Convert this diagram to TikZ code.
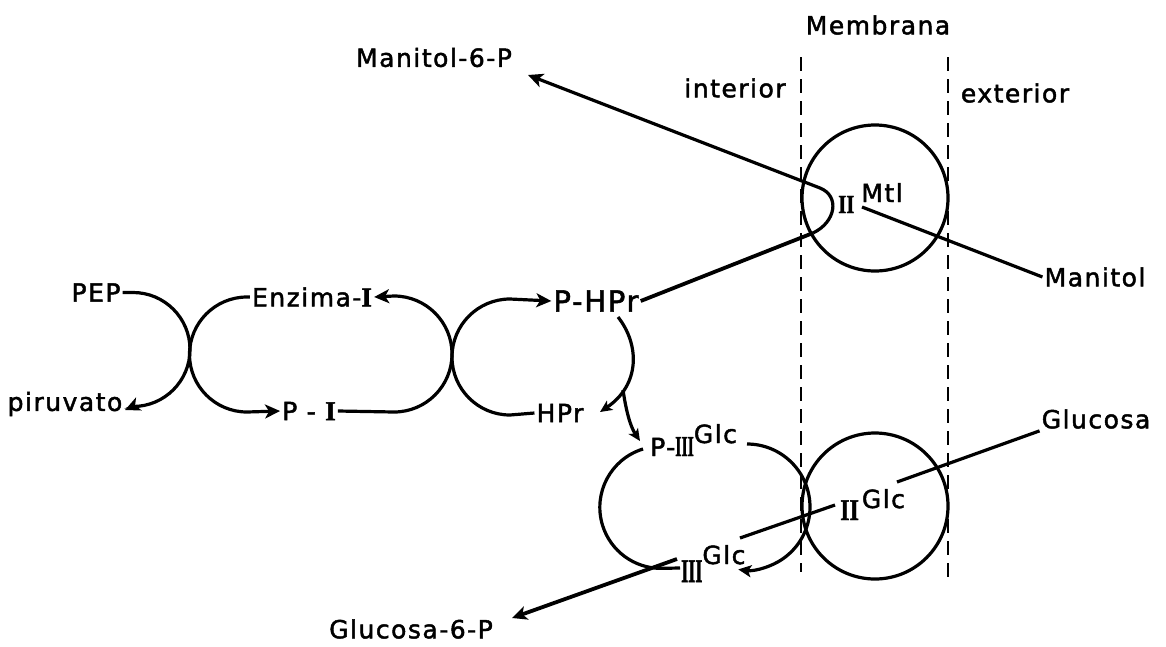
\documentclass[tikz,border=0pt]{standalone}
\usepackage{graphicx}
\usepackage{fontspec}
\setmainfont{DejaVu Sans}[LetterSpace=6, FakeBold=1.8]
\newfontfamily\numf{Liberation Serif}[BoldFeatures={FakeBold=1.5}]
\usetikzlibrary{arrows.meta}
% condensed roman numeral: optional horizontal scale, size, numeral
\newcommand{\romnum}[3][1]{\scalebox{#1}[1]{\fontsize{#2}{#2}\numf\bfseries #3}}
\begin{document}
\begin{tikzpicture}[x=1pt,y=1pt,
  every node/.style={font=\fontsize{25}{29}\selectfont, inner sep=2pt},
  ln/.style={line width=3.2pt},
  bold/.style={line width=3.8pt},
  tip/.style={-{Stealth[length=15pt,width=14pt,inset=4pt]}},
  arr/.style={ln, tip},
  membr/.style={line width=2.4pt, dash pattern=on 14pt off 8pt},
  sup/.style={anchor=base west, inner sep=0pt}]
\fill[white] (0,0) rectangle (1166,-646);
\useasboundingbox (0,0) rectangle (1166,-646);

% labels
\node (pep)   at (96,-292.5) {PEP};
\node (piru)  at (65,-404)   {piruvato};
\node (enz)   at (312,-297)  {Enzima-\romnum{27}{I}};
\node (pI)    at (309,-411)  {P - \romnum{27}{I}};
\node[font=\fontsize{29}{32}\selectfont] (phpr) at (596,-301) {P-HPr};
\node (hpr)   at (560,-413)  {HPr};
\node (m6p)   at (434,-57.5) {Manitol-6-P};
\node (g6p)   at (411,-629)  {Glucosa-6-P};
\node (glu)   at (1096,-419) {Glucosa};
\node (mant)  at (1095,-277) {Manitol};
\node (memb)  at (878,-25)   {Membrana};
\node (inter) at (735,-88)   {interior};
\node (exter) at (1015,-93)  {exterior};

\node[sup] (iimtl)  at (838,-213) {\romnum[0.8]{26}{II}\hspace{7pt}\raisebox{11pt}{Mtl}};
\node[sup] (iiglc)  at (840,-520) {\romnum[0.8]{30}{II}\hspace{3pt}\raisebox{12pt}{Glc}};
\node[sup] (piii)   at (650,-456) {P-\romnum[0.55]{29}{III}\raisebox{13pt}{Glc}};
\node[sup] (iiiglc) at (681,-582) {\romnum[0.55]{33}{III}\raisebox{18pt}{Glc}};

% membrane
\draw[membr] (801,-57) -- (801,-572);
\draw[membr] (948,-57) -- (948,-584);

% transporter circles
\draw[ln] (875,-198) circle[radius=73];
\draw[ln] (875,-506) circle[radius=73];

% PEP -> piruvato
\coordinate (c1t) at (133,-292.5);
\coordinate (piruA) at (125,-410);
\draw[arr] (pep.east) -- (c1t) arc[start angle=90, end angle=-90, radius=57] -- (piruA);

% Enzima-I -> P-I
\coordinate (c2t) at (247,-297);
\draw[arr] (enz.west) -- (c2t) arc[start angle=90, end angle=270, radius=57.5] -- (pI.west);

% P-I -> Enzima-I
\coordinate (c3b) at (394,-412);
\draw[arr] (pI.east) -- (c3b) arc[start angle=-90, end angle=90, radius=58] -- (enz.east);

% HPr -> P-HPr
\coordinate (c4b) at (510,-415);
\draw[arr] (hpr.west) -- (c4b) arc[start angle=270, end angle=90, radius=58] -- (phpr.west);

% P-HPr -> HPr and P-HPr -> P-III
\coordinate (hA) at (618,-317);
\coordinate (hB) at (600,-412);
\coordinate (hS) at (623,-390);
\coordinate (hC) at (640,-441);
\draw[ln, -{Stealth[length=12pt,width=11pt,inset=3pt]}] (hA) .. controls (640,-345) and (640,-385) .. (hB);
\draw[ln, -{Stealth[length=12pt,width=11pt,inset=3pt]}] (hS) .. controls (626,-410) and (630,-426) .. (hC);

% P-HPr -> II-Mtl -> Manitol-6-P
\coordinate (mA) at (813,-233);
\coordinate (mB) at (820,-188);
\coordinate (mC) at (528,-75);
\draw[bold] (phpr.east) -- (mA);
\draw[ln, tip] (mA) .. controls (836,-222) and (840,-196) .. (mB) -- (mC);

% Manitol -> II-Mtl
\coordinate (mtlIn) at (862,-207);
\draw[ln] (mant.west) -- (mtlIn);

% Glucosa -> II-Glc -> III-Glc
\coordinate (gA) at (897,-482);
\coordinate (gB) at (835,-505);
\coordinate (gC) at (740,-538);
\draw[ln] (glu.south west) -- (gA);
\draw[ln] (gB) -- (gC);

% III-Glc cycle
\coordinate (lA) at (643,-449);
\coordinate (lB) at (747,-444);
\draw[ln] (lA) arc[start angle=107, end angle=270, radius=61] -- (680,-568);
\draw[ln, -{Stealth[length=13pt,width=12pt,inset=3pt]}] (lB) arc[start angle=90, end angle=-98, radius=63];

% III-Glc -> Glucosa-6-P
\coordinate (gD) at (677,-559);
\coordinate (gE) at (512,-618);
\draw[bold, tip] (gD) -- (gE);
\end{tikzpicture}
\end{document}
